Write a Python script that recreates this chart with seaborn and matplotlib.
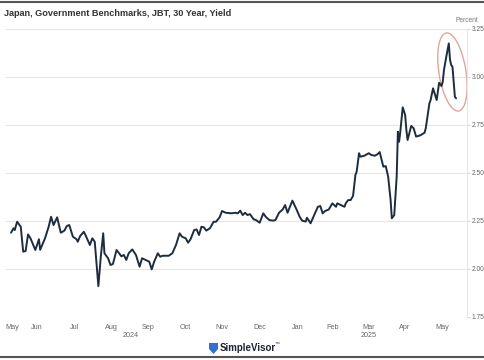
import pandas as pd
import matplotlib.pyplot as plt
import matplotlib.dates as mdates
import matplotlib.transforms as mtransforms
from matplotlib.patches import Ellipse, Polygon
from matplotlib.lines import Line2D
import seaborn as sns

# dados (aproximados)
datas = [
    "2024-05-25", "2024-05-27", "2024-05-28", "2024-05-30", "2024-06-02", "2024-06-04",
    "2024-06-06", "2024-06-08", "2024-06-10", "2024-06-14", "2024-06-17", "2024-06-18",
    "2024-06-22", "2024-06-25", "2024-06-27", "2024-06-29", "2024-07-02", "2024-07-05",
    "2024-07-08", "2024-07-10", "2024-07-12", "2024-07-15", "2024-07-18", "2024-07-19",
    "2024-07-21", "2024-07-24", "2024-07-26", "2024-07-29", "2024-07-31", "2024-08-02",
    "2024-08-03", "2024-08-05", "2024-08-07", "2024-08-09", "2024-08-10", "2024-08-13",
    "2024-08-15", "2024-08-17", "2024-08-20", "2024-08-24", "2024-08-26", "2024-08-28",
    "2024-08-30", "2024-09-02", "2024-09-05", "2024-09-08", "2024-09-10", "2024-09-13",
    "2024-09-16", "2024-09-18", "2024-09-20", "2024-09-23", "2024-09-25", "2024-09-27",
    "2024-10-02", "2024-10-05", "2024-10-08", "2024-10-11", "2024-10-13", "2024-10-16",
    "2024-10-18", "2024-10-20", "2024-10-23", "2024-10-25", "2024-10-27", "2024-10-29",
    "2024-10-31", "2024-11-02", "2024-11-05", "2024-11-08", "2024-11-10", "2024-11-13",
    "2024-11-15", "2024-11-18", "2024-11-23", "2024-11-26", "2024-11-28", "2024-11-30",
    "2024-12-02", "2024-12-04", "2024-12-06", "2024-12-08", "2024-12-11", "2024-12-13",
    "2024-12-16", "2024-12-19", "2024-12-21", "2024-12-24", "2024-12-27", "2024-12-29",
    "2025-01-01", "2025-01-04", "2025-01-06", "2025-01-08", "2025-01-10", "2025-01-12",
    "2025-01-15", "2025-01-18", "2025-01-20", "2025-01-23", "2025-01-24", "2025-01-27",
    "2025-01-30", "2025-02-02", "2025-02-04", "2025-02-06", "2025-02-08", "2025-02-11",
    "2025-02-14", "2025-02-17", "2025-02-18", "2025-02-21", "2025-02-24", "2025-02-25",
    "2025-02-27", "2025-03-01", "2025-03-03", "2025-03-05", "2025-03-06", "2025-03-08",
    "2025-03-09", "2025-03-12", "2025-03-16", "2025-03-18", "2025-03-21", "2025-03-23",
    "2025-03-25", "2025-03-28", "2025-03-30", "2025-04-01", "2025-04-03", "2025-04-04",
    "2025-04-06", "2025-04-08", "2025-04-09", "2025-04-10", "2025-04-11", "2025-04-13",
    "2025-04-15", "2025-04-16", "2025-04-17", "2025-04-20", "2025-04-22", "2025-04-24",
    "2025-04-26", "2025-04-28", "2025-05-01", "2025-05-02", "2025-05-05", "2025-05-06",
    "2025-05-08", "2025-05-11", "2025-05-13", "2025-05-15", "2025-05-16", "2025-05-17",
    "2025-05-19", "2025-05-21", "2025-05-22", "2025-05-23", "2025-05-24", "2025-05-26",
    "2025-05-27",
]
rendimento = [
    2.189, 2.212, 2.203, 2.246, 2.220, 2.090,
    2.094, 2.180, 2.160, 2.099, 2.155, 2.100,
    2.160, 2.220, 2.272, 2.229, 2.269, 2.189,
    2.200, 2.224, 2.229, 2.168, 2.155, 2.142,
    2.172, 2.194, 2.168, 2.125, 2.160, 2.142,
    2.064, 1.911, 2.064, 2.186, 2.082, 2.056,
    2.021, 2.026, 2.099, 2.066, 2.073, 2.047,
    2.082, 2.102, 2.073, 2.012, 2.056, 2.047,
    2.038, 1.998, 2.038, 2.082, 2.064, 2.069,
    2.069, 2.082, 2.125, 2.186, 2.168, 2.160,
    2.137, 2.155, 2.203, 2.206, 2.177, 2.220,
    2.217, 2.200, 2.212, 2.246, 2.246, 2.269,
    2.302, 2.293, 2.290, 2.293, 2.290, 2.304,
    2.281, 2.293, 2.281, 2.286, 2.259, 2.255,
    2.241, 2.290, 2.272, 2.255, 2.252, 2.255,
    2.293, 2.310, 2.333, 2.293, 2.324, 2.356,
    2.316, 2.272, 2.252, 2.247, 2.267, 2.238,
    2.281, 2.324, 2.328, 2.290, 2.302, 2.310,
    2.342, 2.324, 2.342, 2.333, 2.324, 2.342,
    2.359, 2.359, 2.380, 2.490, 2.507, 2.603,
    2.585, 2.589, 2.603, 2.594, 2.590, 2.597,
    2.609, 2.533, 2.536, 2.480, 2.359, 2.264,
    2.281, 2.480, 2.715, 2.663, 2.715, 2.842,
    2.802, 2.724, 2.672, 2.745, 2.733, 2.690,
    2.693, 2.698, 2.710, 2.733, 2.863, 2.880,
    2.941, 2.880, 2.970, 2.953, 2.975, 3.036,
    3.109, 3.175, 3.089, 3.062, 3.054, 2.897,
    2.889,
]

meses = ["May", "Jun", "Jul", "Aug", "Sep", "Oct", "Nov", "Dec",
         "Jan", "Feb", "Mar", "Apr", "May"]
pos_meses = ["2024-05-20", "2024-06-15", "2024-07-16", "2024-08-16", "2024-09-15",
             "2024-10-16", "2024-11-15", "2024-12-16", "2025-01-16", "2025-02-14",
             "2025-03-16", "2025-04-15", "2025-05-16"]
inicio_meses = pd.date_range("2024-06-01", "2025-06-01", freq="MS")
anos = ["2024", "2025"]
pos_anos = ["2024-09-01", "2025-03-16"]
ticks_y = [1.75, 2.00, 2.25, 2.50, 2.75, 3.00, 3.25]

df = pd.DataFrame({"Data": pd.to_datetime(datas), "Rendimento": rendimento})

sns.set_style("white")
plt.rcParams["font.family"] = ["Liberation Sans", "DejaVu Sans"]

W, H = 485, 360
fig = plt.figure(figsize=(W / 100, H / 100), dpi=100)
ax = fig.add_axes([5 / W, 1 - 317 / H, (467 - 5) / W, (317 - 29) / H])

sns.lineplot(data=df, x="Data", y="Rendimento", color="#1e2d3e", linewidth=1.4, ax=ax)

ax.set_xlim(pd.Timestamp("2024-05-23"), pd.Timestamp("2025-06-05"))
ax.set_ylim(1.75, 3.25)
ax.set_xlabel("")
ax.set_ylabel("")

# eixo y a direita
ax.yaxis.tick_right()
ax.set_yticks(ticks_y)
ax.set_yticklabels([f"{t:.2f}" for t in ticks_y])
ax.tick_params(axis="y", length=2.5, width=0.6, color="#cccccc", labelsize=4.8,
               labelcolor="#666666", pad=1)
ax.grid(axis="y", color="#e6e6e6", linewidth=0.8)
ax.grid(axis="x", visible=False)

# eixo x: tracinhos no inicio do mes, rotulos no meio
ax.set_xticks(inicio_meses)
ax.set_xticklabels([""] * len(inicio_meses))
ax.tick_params(axis="x", which="major", length=3, width=0.6, color="#cccccc")
ax.set_xticks(pd.to_datetime(pos_meses), minor=True)
ax.set_xticklabels(meses, minor=True)
ax.tick_params(axis="x", which="minor", length=0, labelsize=5.2,
               labelcolor="#666666", pad=5)
ax.get_xticklabels(minor=True)[0].set_ha("left")

for ano, pos in zip(anos, pos_anos):
    ax.text(pd.Timestamp(pos), -0.065, ano, transform=ax.get_xaxis_transform(),
            ha="center", va="center", fontsize=5.2, color="#666666")

for lado in ["top", "left", "bottom"]:
    ax.spines[lado].set_visible(False)
ax.spines["right"].set_color("#e6e6e6")
ax.spines["right"].set_linewidth(0.8)

# elipse de destaque no pico
centro = (mdates.date2num(pd.Timestamp("2025-05-24")), 3.026)
trans = fig.dpi_scale_trans + mtransforms.ScaledTranslation(centro[0], centro[1], ax.transData)
ax.add_patch(Ellipse((0, 0), 0.27, 0.79, angle=9, transform=trans, fill=False,
                     edgecolor="#dba89e", linewidth=1.0, clip_on=False))

# textos
fig.text(4 / W, 1 - 13 / H, "Japan, Government Benchmarks, JBT, 30 Year, Yield",
         fontsize=6.6, fontweight="bold", color="#333333", va="center", ha="left")
fig.text(467 / W, 1 - 20 / H, "Percent", fontsize=4.8, color="#777777",
         va="center", ha="center")

# logo
cantos = [(209, 343), (218, 343), (218, 349), (213.5, 354), (209, 349)]
escudo = Polygon([(x / W, 1 - y / H) for x, y in cantos], closed=True,
                 facecolor="#2f6fd6", edgecolor="none", transform=fig.transFigure)
fig.add_artist(escudo)
fig.text(220 / W, 1 - 348 / H, "SimpleVisor", fontsize=7, fontweight="bold",
         color="#1b2233", va="center", ha="left")
fig.text(275 / W, 1 - 343 / H, "™", fontsize=3.5, color="#1b2233", va="center", ha="left")

# bordas da captura
fig.add_artist(Line2D([0, 1], [1 - 1.5 / H, 1 - 1.5 / H], transform=fig.transFigure,
                      color="#555555", linewidth=1.5))
fig.add_artist(Line2D([0, 1], [1 - 357 / H, 1 - 357 / H], transform=fig.transFigure,
                      color="#555555", linewidth=1.5))

fig.savefig("out.png", dpi=100)
